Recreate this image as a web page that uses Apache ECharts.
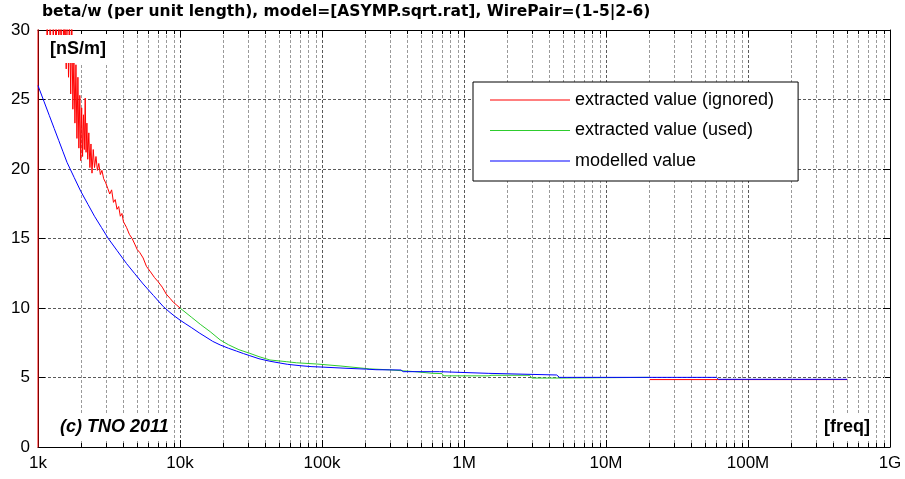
<!DOCTYPE html>
<html>
<head>
<meta charset="utf-8">
<script src="https://cdn.jsdelivr.net/npm/echarts@6/dist/echarts.min.js"></script>
<style>
  html, body { margin: 0; padding: 0; background: #fff; }
  #chart { width: 905px; height: 479px; }
</style>
</head>
<body>
<div id="chart"></div>
<script>
const FONT = 'Arial, "Liberation Sans", sans-serif';
const TITLE_FONT = '"DejaVu Sans", Verdana, sans-serif';

const chartTitle = 'beta/w (per unit length), model=[ASYMP.sqrt.rat], WirePair=(1-5|2-6)';
const seriesNames = ['extracted value (ignored)', 'extracted value (used)', 'modelled value'];
const seriesColors = ['#ff0000', '#2ecc2e', '#0000ff'];
const xTickLabels = ['1k', '10k', '100k', '1M', '10M', '100M', '1G'];
const yUnitLabel = '[nS/m]';
const xUnitLabel = '[freq]';
const copyrightLabel = '(c) TNO 2011';

// extracted beta/w, low-frequency part (noisy, not used for the fit)
const ignoredLowFreq = [1000, 1000, 1120, 1160, 1190, 1220, 1250, 1280, 1310, 1340,
  1370, 1400, 1430, 1460, 1490, 1520, 1550, 1580, 1610, 1640,
  1670, 1700, 1730, 1760, 1790, 1820, 1850, 1880, 1910, 1940,
  1970, 2000, 2030, 2060, 2090, 2120, 2150, 2180, 2210, 2240,
  2280, 2320, 2360, 2400, 2450, 2500, 2560, 2620, 2680, 2750,
  2820, 2900, 3000, 3100, 3200, 3300, 3400, 3500, 3600, 3700,
  3800, 3900, 4000, 4200, 4400, 4600, 4800, 5000, 5200, 5500,
  5800, 6200, 6600, 7000, 7500, 8000, 8500, 9000, 9500, 10000];
const ignoredLowValue = [-3, 45, 36, 29.0, 33, 28.5, 34, 29.2, 32, 28.2,
  33, 29.0, 31.5, 28.3, 34, 28.6, 31, 27.2, 33, 26.6,
  30.5, 25.4, 31, 24.3, 28, 23.3, 27.5, 22.2, 26.6, 21.5,
  25.3, 20.6, 24.4, 20.9, 23.9, 21.4, 25.1, 21.2, 23.3, 20.7,
  22.6, 20.1, 21.8, 19.7, 21.4, 20.1, 20.9, 19.9, 20.4, 19.6,
  19.9, 19.3, 19.0, 18.6, 18.2, 18.5, 17.6, 17.8, 17.1, 17.3,
  16.6, 16.8, 16.2, 15.8, 15.3, 15.0, 14.6, 14.2, 14.0, 13.6,
  13.0, 12.6, 12.2, 11.9, 11.5, 11.0, 10.7, 10.4, 10.2, 10.0];

// extracted beta/w, high-frequency part (not used for the fit)
const ignoredHighFreq = [20300000, 500000000];
const ignoredHighValue = [4.85, 4.85];

// extracted beta/w used for the fit
const usedFreq = [10000, 12000, 14000, 16300, 19200, 22000, 26000, 31000, 36000, 43000,
  56000, 66000, 92000, 134000, 217000, 300000, 450000, 605000, 700000, 720000,
  1500000, 1550000, 2900000, 3000000, 4600000, 4700000, 20000000];
const usedValue = [10.0, 9.35, 8.8, 8.3, 7.7, 7.35, 7.0, 6.74, 6.5, 6.26,
  6.14, 6.06, 5.97, 5.83, 5.62, 5.55, 5.42, 5.3, 5.28, 5.12,
  5.12, 5.16, 5.16, 4.96, 4.96, 5.01, 5.01];

// modelled beta/w (ASYMP.sqrt.rat)
const modelFreq = [1000, 1100, 1200, 1300, 1400, 1500, 1600, 1800, 2000,
  2250, 2500, 2800, 3130, 3600, 4200, 4800, 5500, 6500, 7630,
  8500, 9200, 10000, 11000, 12000, 13800, 15000, 17000,
  19200, 22000, 25000, 28000, 31000,
  36000, 43000, 50000, 57000, 70000,
  85000, 100000, 150000, 206000, 240000,
  360000, 373000, 670000, 690000, 1480000,
  1520000, 4500000, 4700000, 60000000, 62000000,
  500000000];
const modelValue = [26.0, 24.88, 23.86, 22.92, 22.05, 21.24, 20.48, 19.38, 18.4,
  17.45, 16.6, 15.79, 14.99, 14.14, 13.2, 12.47, 11.73, 10.9, 10.1,
  9.68, 9.4, 9.13, 8.85, 8.6, 8.18, 7.95, 7.6,
  7.34, 7.1, 6.9, 6.72, 6.57,
  6.35, 6.17, 6.05, 5.95, 5.85,
  5.78, 5.75, 5.66, 5.6, 5.56,
  5.54, 5.42, 5.42, 5.3, 5.3,
  5.18, 5.18, 5.01, 5.01, 4.87,
  4.87];

const zip = (xs, ys) => xs.map((x, i) => [x, ys[i]]);

// intermediate frequencies (2..9 per decade) for the minor grid
const minorFreqs = [];
for (let d = 3; d < 9; d++) {
  for (let m = 2; m <= 9; m++) minorFreqs.push([m * Math.pow(10, d), 0]);
}

function minorGridItem(params, api) {
  const cs = params.coordSys;
  const x = Math.round(api.coord([api.value(0), 1])[0]) + 0.5;
  const top = cs.y, bot = cs.y + cs.height;
  return {
    type: 'group',
    children: [
      { type: 'line', shape: { x1: x, y1: top, x2: x, y2: bot },
        style: { stroke: '#9a9a9a', lineWidth: 1, lineDash: [3, 2] } },
      { type: 'line', shape: { x1: x, y1: bot, x2: x, y2: bot - 4 },
        style: { stroke: '#000', lineWidth: 1 } },
      { type: 'line', shape: { x1: x, y1: top, x2: x, y2: top + 4 },
        style: { stroke: '#000', lineWidth: 1 } }
    ]
  };
}

const lineSeries = (name, data, color, z) => ({
  name, type: 'line', data, xAxisIndex: 0, yAxisIndex: 0,
  symbol: 'none', showSymbol: false, clip: true, z,
  lineStyle: { color, width: 1 }, itemStyle: { color },
  emphasis: { disabled: true }
});

const chart = echarts.init(document.getElementById('chart'), null, { renderer: 'canvas' });

const option = {
  animation: false,
  backgroundColor: '#fff',
  textStyle: { fontFamily: FONT },
  title: {
    text: chartTitle, left: 42, top: 4, padding: 0,
    textStyle: { fontSize: 15.5, fontWeight: 'bold', color: '#000', fontFamily: TITLE_FONT }
  },
  grid: { left: 38, right: 15, top: 30, bottom: 32, containLabel: false },
  legend: {
    data: seriesNames, orient: 'vertical', left: 473, top: 82,
    itemWidth: 80, itemHeight: 18, itemGap: 12.5,
    icon: 'path://M0,0H80V1.2H0Z',
    padding: [9, 24, 11, 17],
    backgroundColor: '#fff', borderColor: '#000', borderWidth: 1, borderRadius: 0,
    selectedMode: false, z: 20,
    textStyle: { fontSize: 18, color: '#000', fontFamily: FONT, lineHeight: 18 }
  },
  xAxis: [
    {
      type: 'log', logBase: 10, min: 1e3, max: 1e9, position: 'bottom',
      axisLine: { show: true, onZero: false, lineStyle: { color: '#000', width: 1 } },
      axisTick: { show: true, inside: true, length: 7, lineStyle: { color: '#000' } },
      axisLabel: {
        show: true, fontSize: 17, color: '#000', margin: 8, fontFamily: FONT,
        formatter: v => xTickLabels[Math.round(Math.log10(v)) - 3]
      },
      splitLine: { show: true, lineStyle: { color: '#5a5a5a', width: 1, type: [3, 2] } },
      minorTick: { show: false }, minorSplitLine: { show: false }
    },
    {
      type: 'log', logBase: 10, min: 1e3, max: 1e9, position: 'top',
      axisLine: { show: true, onZero: false, lineStyle: { color: '#000', width: 1 } },
      axisTick: { show: true, inside: true, length: 7, lineStyle: { color: '#000' } },
      axisLabel: { show: false },
      splitLine: { show: false }
    }
  ],
  yAxis: [
    {
      type: 'value', min: 0, max: 30, interval: 5, position: 'left',
      axisLine: { show: true, onZero: false, lineStyle: { color: '#000', width: 1 } },
      axisTick: { show: true, inside: true, length: 7, lineStyle: { color: '#000' } },
      axisLabel: { show: true, fontSize: 17, color: '#000', margin: 8, fontFamily: FONT },
      splitLine: { show: true, lineStyle: { color: '#5a5a5a', width: 1, type: [3, 2] } }
    },
    {
      type: 'value', min: 0, max: 30, interval: 5, position: 'right',
      axisLine: { show: true, onZero: false, lineStyle: { color: '#000', width: 1 } },
      axisTick: { show: true, inside: true, length: 7, lineStyle: { color: '#000' } },
      axisLabel: { show: false },
      splitLine: { show: false }
    }
  ],
  graphic: [
    {
      type: 'text', left: 45, top: 35, z: 100,
      style: { text: yUnitLabel, font: 'bold 18px ' + FONT, fill: '#000',
               backgroundColor: '#fff', padding: [5, 4, 5, 5] }
    },
    {
      type: 'text', left: 56, top: 413, z: 100,
      style: { text: copyrightLabel, font: 'italic bold 18px ' + FONT, fill: '#000',
               backgroundColor: '#fff', padding: [5, 4, 5, 4] }
    },
    {
      type: 'text', left: 820, top: 413, z: 100,
      style: { text: xUnitLabel, font: 'bold 18px ' + FONT, fill: '#000',
               backgroundColor: '#fff', padding: [5, 4, 5, 4] }
    }
  ],
  series: [
    {
      type: 'custom', name: 'minor-grid', data: minorFreqs, renderItem: minorGridItem,
      xAxisIndex: 0, yAxisIndex: 0, encode: { x: 0, y: 1 }, z: 1, silent: true, clip: false
    },
    lineSeries(seriesNames[0], zip(ignoredLowFreq, ignoredLowValue), seriesColors[0], 3),
    lineSeries(seriesNames[0], zip(ignoredHighFreq, ignoredHighValue), seriesColors[0], 3),
    lineSeries(seriesNames[1], zip(usedFreq, usedValue), seriesColors[1], 4),
    lineSeries(seriesNames[2], zip(modelFreq, modelValue), seriesColors[2], 5)
  ]
};

chart.setOption(option);
</script>
</body>
</html>
